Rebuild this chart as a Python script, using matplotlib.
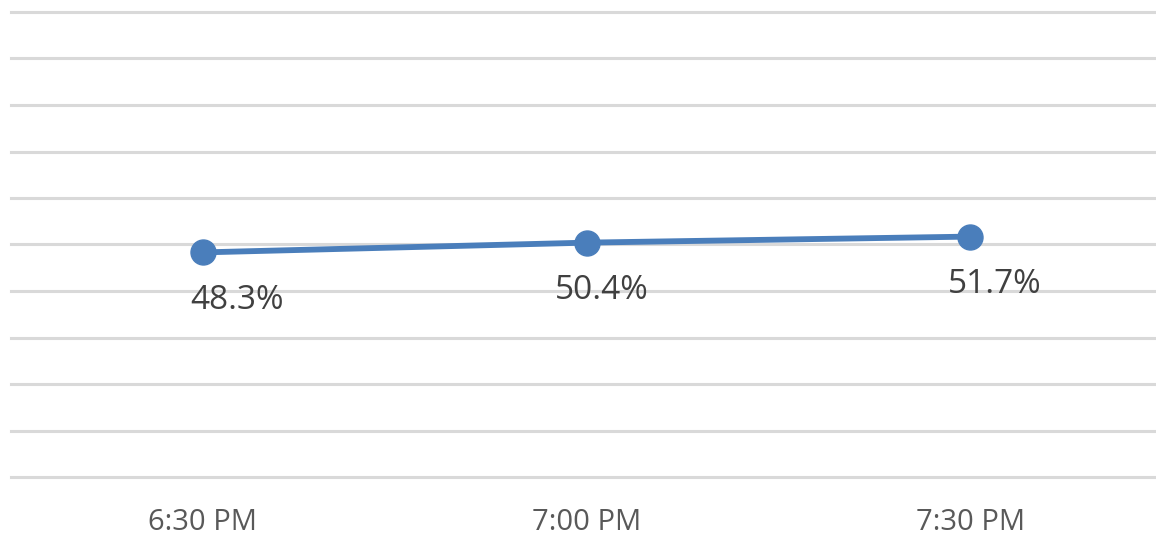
import matplotlib.pyplot as plt

times = ["6:30 PM", "7:00 PM", "7:30 PM"]
share = [48.3, 50.4, 51.7]
label_dx = [34, 15, 25]

plt.rcParams["font.family"] = ["Open Sans", "DejaVu Sans"]

fig = plt.figure(figsize=(11.56, 5.35), dpi=100)
ax = fig.add_axes([11 / 1156, 1 - 477 / 535, 1151 / 1156, 465 / 535])

x = range(len(times))
ax.plot(x, share, color="#4a7ebb", lw=4.2, marker="o", ms=18,
        solid_capstyle="round", zorder=3)

for i, v in enumerate(share):
    ax.annotate(f"{v}%", (i, v), xytext=(label_dx[i], -48),
                textcoords="offset pixels", ha="center", va="center",
                fontsize=24, color="#404040")

ax.set_xlim(-0.5, 2.5)
ax.set_ylim(0, 100)
ax.set_yticks(range(0, 101, 10))
ax.set_yticklabels([])
ax.set_xticks(list(x))
ax.set_xticklabels(times, fontsize=21, color="#595959")
ax.tick_params(length=0, pad=22)
ax.tick_params(axis="y", length=0)

ax.grid(axis="y", color="#d9d9d9", lw=2.2)
for gl in ax.get_ygridlines():
    gl.set_clip_on(False)
ax.set_axisbelow(True)
for s in ax.spines.values():
    s.set_visible(False)

fig.savefig("out.png", dpi=100)
